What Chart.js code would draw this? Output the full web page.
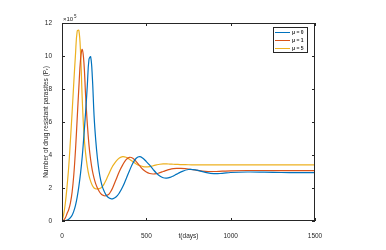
<!DOCTYPE html>
<html>
<head>
<meta charset="utf-8">
<script src="https://cdn.jsdelivr.net/npm/chart.js@4"></script>
<style>
  html, body { margin: 0; padding: 0; background: #fff; }
  #chart { display: block; }
</style>
</head>
<body>
<canvas id="chart" width="386" height="250"></canvas>
<script>
// tiempo (días)
const tDias = [
  0, 10, 20, 30, 40, 50, 60, 70, 80, 90, 100, 110, 120, 130, 140, 150, 160, 170, 180, 190,
  200, 210, 220, 230, 240, 250, 260, 270, 280, 290, 300,
  320, 340, 360, 380, 400, 420, 440, 460, 480, 500, 520, 540, 560, 580, 600, 620, 640, 660, 680, 700,
  750, 800, 850, 900, 950, 1000,
  1100, 1200, 1300, 1400, 1500
];

// parásitos resistentes (x10^5)
const mu0 = [
  0, 0, 0.02, 0.05, 0.1, 0.2, 0.35, 0.6, 0.95, 1.45, 2.1, 2.9, 3.9, 5.2, 6.6, 8.2, 9.8, 9.95, 8.7, 6.4,
  4.9, 3.8, 3.0, 2.45, 2.05, 1.8, 1.6, 1.47, 1.39, 1.35, 1.34,
  1.45, 1.7, 2.07, 2.55, 3.05, 3.5, 3.8, 3.9, 3.8, 3.6, 3.38, 3.13, 2.9, 2.72, 2.62, 2.6, 2.64, 2.73, 2.84, 2.95,
  3.12, 3.08, 2.95, 2.87, 2.89, 2.94,
  2.97, 2.96, 2.94, 2.93, 2.93
];
const mu1 = [
  0, 0.05, 0.2, 0.45, 0.7, 1.1, 1.75, 2.8, 4.3, 6.2, 8.1, 9.8, 10.4, 9.6, 7.6, 5.9, 4.6, 3.7, 3.05, 2.6,
  2.25, 2.0, 1.8, 1.66, 1.57, 1.53, 1.53, 1.57, 1.65, 1.8, 2.0,
  2.5, 3.0, 3.4, 3.72, 3.86, 3.8, 3.6, 3.35, 3.12, 2.97, 2.88, 2.85, 2.87, 2.93, 3.0, 3.07, 3.13, 3.17, 3.19, 3.19,
  3.15, 3.07, 3.01, 3.0, 3.02, 3.04,
  3.06, 3.06, 3.05, 3.05, 3.05
];
const mu5 = [
  0, 0.4, 1.1, 2.1, 3.3, 4.9, 6.6, 8.4, 10.1, 11.5, 11.55, 10.2, 7.4, 5.3, 4.1, 3.3, 2.75, 2.4, 2.15, 2.0,
  1.95, 1.94, 1.96, 2.0, 2.1, 2.25, 2.45, 2.68, 2.9, 3.12, 3.32,
  3.62, 3.82, 3.9, 3.86, 3.74, 3.6, 3.46, 3.36, 3.3, 3.28, 3.3, 3.35, 3.4, 3.44, 3.46, 3.46, 3.45, 3.44, 3.43, 3.42,
  3.41, 3.4, 3.4, 3.4, 3.4, 3.4,
  3.4, 3.4, 3.4, 3.4, 3.4
];

const etiquetas = ["\u03bc = 0", "\u03bc = 1", "\u03bc = 5"];
const colores = ["#0072BD", "#D95319", "#EDB120"];
const xTicks = [0, 500, 1000, 1500];
const yTicks = [0, 2, 4, 6, 8, 10, 12];

const fuente = "'Liberation Sans', Arial, sans-serif";
const gris = "#262626";

const serie = (ys) => tDias.map((t, i) => ({ x: t, y: ys[i] }));

// caja estilo MATLAB, marcas hacia dentro, leyenda y x10^5
const cajaPlugin = {
  id: "caja",
  afterDraw(chart) {
    const { ctx, chartArea: a, scales } = chart;
    ctx.save();
    ctx.strokeStyle = gris;
    ctx.lineWidth = 1;
    ctx.strokeRect(a.left + 0.5, a.top + 0.5, a.right - a.left - 1, a.bottom - a.top - 1);
    ctx.beginPath();
    const tl = 3;
    xTicks.forEach(v => {
      const px = Math.round(scales.x.getPixelForValue(v)) + 0.5;
      ctx.moveTo(px, a.bottom); ctx.lineTo(px, a.bottom - tl);
      ctx.moveTo(px, a.top); ctx.lineTo(px, a.top + tl);
    });
    yTicks.forEach(v => {
      const py = Math.round(scales.y.getPixelForValue(v)) + 0.5;
      ctx.moveTo(a.left, py); ctx.lineTo(a.left + tl, py);
      ctx.moveTo(a.right, py); ctx.lineTo(a.right - tl, py);
    });
    ctx.stroke();

    // x10^5
    ctx.fillStyle = gris;
    ctx.textBaseline = "alphabetic";
    ctx.textAlign = "left";
    ctx.font = "6px " + fuente;
    ctx.fillText("\u00d710", a.left + 1, a.top - 2);
    ctx.font = "4.5px " + fuente;
    ctx.fillText("5", a.left + 12, a.top - 5);

    // leyenda
    const bx = 273, by = 27, bw = 34, bh = 25;
    ctx.fillStyle = "#fff";
    ctx.fillRect(bx, by, bw, bh);
    ctx.strokeStyle = gris;
    ctx.strokeRect(bx + 0.5, by + 0.5, bw, bh);
    chart.data.datasets.forEach((ds, i) => {
      const y = by + 5 + i * 8;
      ctx.strokeStyle = ds.borderColor;
      ctx.lineWidth = 1;
      ctx.beginPath();
      ctx.moveTo(bx + 2, y + 0.5); ctx.lineTo(bx + 17, y + 0.5);
      ctx.stroke();
      ctx.fillStyle = gris;
      ctx.font = "bold 5px " + fuente;
      ctx.textBaseline = "middle";
      ctx.fillText(ds.label, bx + 19, y + 1);
    });
    ctx.restore();
  }
};

new Chart(document.getElementById("chart"), {
  type: "line",
  data: {
    datasets: [mu0, mu1, mu5].map((ys, i) => ({
      label: etiquetas[i],
      data: serie(ys),
      borderColor: colores[i],
      borderWidth: 1.2,
      pointRadius: 0,
      tension: 0.4,
      fill: false
    }))
  },
  options: {
    responsive: false,
    animation: false,
    layout: { padding: { left: 0, right: 71, top: 23, bottom: 0 } },
    plugins: { legend: { display: false }, tooltip: { enabled: false } },
    scales: {
      x: {
        type: "linear",
        min: 0,
        max: 1500,
        grid: { display: false },
        border: { display: false },
        afterBuildTicks: (s) => { s.ticks = xTicks.map(v => ({ value: v })); },
        afterFit: (s) => { s.height = 29; },
        ticks: { color: gris, font: { family: fuente, size: 6.5 }, padding: 3, maxRotation: 0, callback: (v) => String(v) },
        title: { display: true, text: "t(days)", color: gris, font: { family: fuente, size: 6.5 }, padding: { top: 0, bottom: 10 } }
      },
      y: {
        min: 0,
        max: 12,
        grid: { display: false },
        border: { display: false },
        afterBuildTicks: (s) => { s.ticks = yTicks.map(v => ({ value: v })); },
        afterFit: (s) => { s.width = 62; },
        ticks: { color: gris, font: { family: fuente, size: 6.5 }, padding: 2, callback: (v) => String(v) },
        title: { display: true, text: "Number of drug resistant parasites (P\u1d63)", color: gris, font: { family: fuente, size: 6.5 }, padding: { top: 42, bottom: 0 } }
      }
    }
  },
  plugins: [cajaPlugin]
});
</script>
</body>
</html>
